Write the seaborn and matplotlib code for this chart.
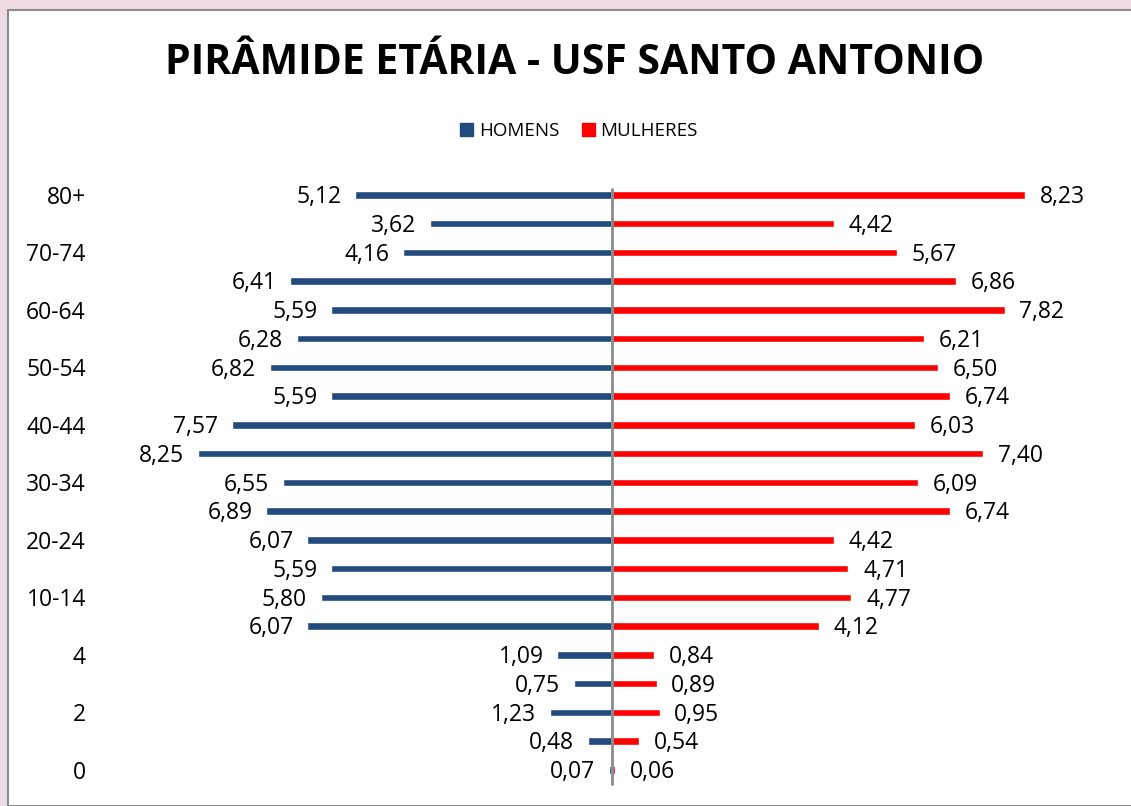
import numpy as np
import pandas as pd
import matplotlib
matplotlib.use('Agg')
import matplotlib.pyplot as plt
import seaborn as sns
from matplotlib.patches import Rectangle, Patch

# faixas etarias (de cima para baixo)
faixas = ['80+', '75-79', '70-74', '65-69', '60-64', '55-59', '50-54', '45-49',
          '40-44', '35-39', '30-34', '25-29', '20-24', '15-19', '10-14', '5-9',
          '4', '3', '2', '1', '0']
homens = [5.12, 3.62, 4.16, 6.41, 5.59, 6.28, 6.82, 5.59, 7.57, 8.25, 6.55,
          6.89, 6.07, 5.59, 5.80, 6.07, 1.09, 0.75, 1.23, 0.48, 0.07]
mulheres = [8.23, 4.42, 5.67, 6.86, 7.82, 6.21, 6.50, 6.74, 6.03, 7.40, 6.09,
            6.74, 4.42, 4.71, 4.77, 4.12, 0.84, 0.89, 0.95, 0.54, 0.06]
# rotulos do eixo (so um sim, um nao)
rotulos_eixo = ['80+', '70-74', '60-64', '50-54', '40-44', '30-34', '20-24',
                '10-14', '4', '2', '0']

cor_h = '#234a7c'
cor_m = '#ff0000'

df = pd.DataFrame({'faixa': faixas, 'homens': homens, 'mulheres': mulheres})
df['homens_neg'] = -df['homens']

sns.set_theme(style='white')
plt.rcParams['font.family'] = ['Open Sans', 'DejaVu Sans']
plt.rcParams['text.color'] = 'black'
plt.rcParams['ytick.color'] = 'black'
plt.rcParams['ytick.labelcolor'] = 'black'

W, H = 1131, 806
fig = plt.figure(figsize=(W / 100, H / 100), dpi=100)
fig.patch.set_facecolor('#efdbe3')

# moldura branca do grafico
fig.patches.append(Rectangle((8 / W, 0), 1, 1 - 10 / H, transform=fig.transFigure,
                             facecolor='white', edgecolor='#8c8c8c', lw=1.5, zorder=-5))

ax = fig.add_axes([90 / W, 16 / H, (1120 - 90) / W, (790 - 180) / H])
ax.set_facecolor('none')
ax.set_zorder(2)

sns.barplot(data=df, y='faixa', x='homens_neg', order=faixas, color=cor_h,
            width=0.26, orient='h', ax=ax, saturation=1)
sns.barplot(data=df, y='faixa', x='mulheres', order=faixas, color=cor_m,
            width=0.26, orient='h', ax=ax, saturation=1)

ax.set_xlim(-10.40, 10.12)
ax.set_ylim(20.696, -0.52)

# rotulos de valor
for i, (h, m) in enumerate(zip(homens, mulheres)):
    ax.annotate(f'{h:.2f}'.replace('.', ','), (-h, i), xytext=(-10, -1.5),
                textcoords='offset points', ha='right', va='center', fontsize=16.5)
    ax.annotate(f'{m:.2f}'.replace('.', ','), (m, i), xytext=(10.5, -1.5),
                textcoords='offset points', ha='left', va='center', fontsize=16.5)

ax.axvline(0, color='#8c8c8c', lw=2, ymin=0.01, ymax=0.985, zorder=3)

pos = [faixas.index(r) for r in rotulos_eixo]
ax.set_yticks(pos)
ax.set_yticklabels(rotulos_eixo, fontsize=16.5)
ax.tick_params(axis='y', length=0, pad=3)
for t in ax.get_yticklabels():
    t.set_y(t.get_position()[1])
ax.set_xticks([])
ax.set_xlabel('')
ax.set_ylabel('')
for s in ax.spines.values():
    s.set_visible(False)

fig.text(575 / W, 1 - 63 / H, 'PIRÂMIDE ETÁRIA - USF SANTO ANTONIO',
         ha='center', va='center', fontsize=29.5, fontweight='bold', color='black')

handles = [Patch(color=cor_h, label='HOMENS'), Patch(color=cor_m, label='MULHERES')]
fig.legend(handles=handles, loc='center', bbox_to_anchor=(579 / W, 1 - 131 / H),
           ncol=2, frameon=False, fontsize=13.5, handlelength=0.7, handleheight=0.7,
           handletextpad=0.3, columnspacing=1.2, labelcolor='black')

fig.savefig('out.png', dpi=100, facecolor=fig.get_facecolor())
